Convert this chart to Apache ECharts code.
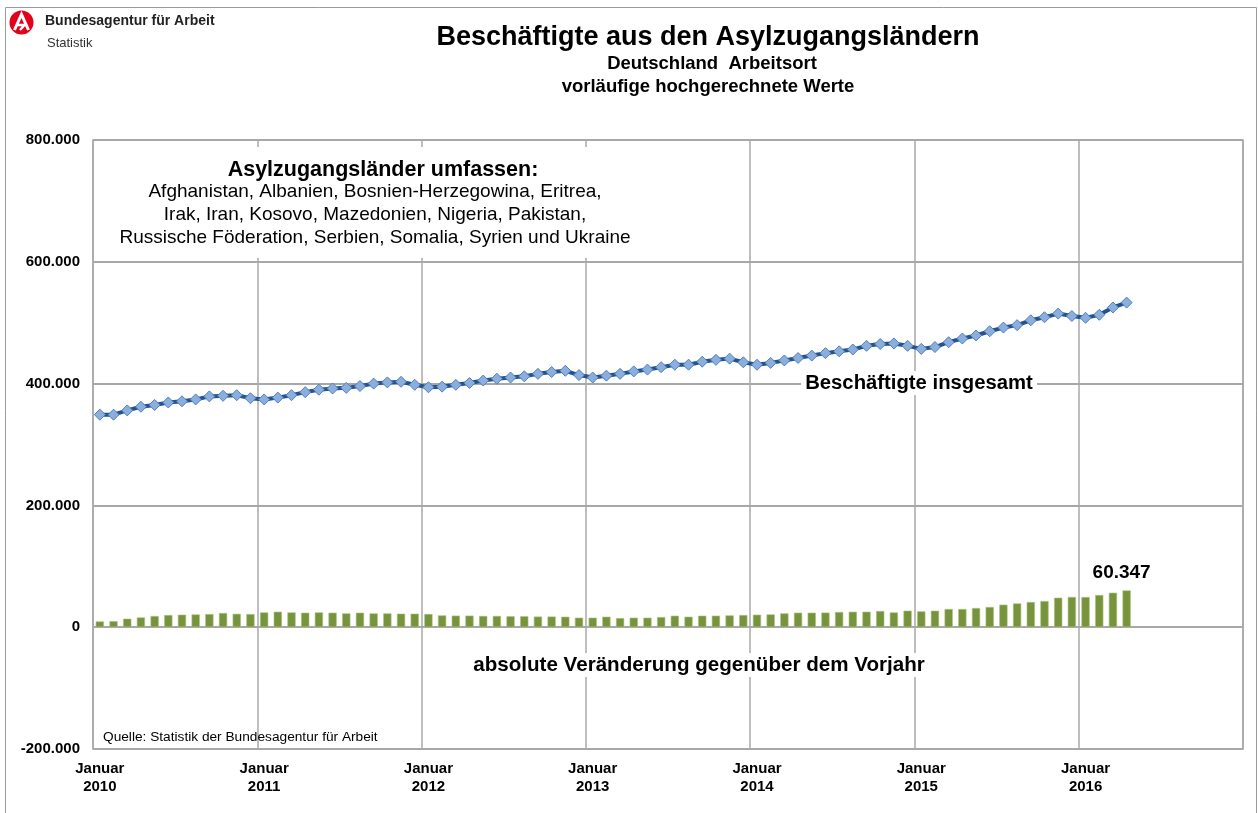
<!DOCTYPE html>
<html>
<head>
<meta charset="utf-8">
<script src="https://cdn.jsdelivr.net/npm/echarts@6/dist/echarts.min.js"></script>
<style>
  html, body { margin: 0; padding: 0; background: #fff; }
  #chart { width: 1258px; height: 813px; }
</style>
</head>
<body>
<div id="chart"></div>
<script>
// Monate Januar 2010 bis Dezember 2016 (Achse), Daten bis April 2016
const years = ['2010', '2011', '2012', '2013', '2014', '2015', '2016'];
const monthNames = ['Januar', 'Februar', 'März', 'April', 'Mai', 'Juni', 'Juli',
  'August', 'September', 'Oktober', 'November', 'Dezember'];

// Beschäftigte insgesamt
const beschaeftigte = [
  349000, 349000, 356000, 362000, 365000, 369000, 371000, 374000, 379000, 380000, 381000, 376000,
  374000, 377000, 381000, 386000, 390000, 392000, 393000, 396000, 400000, 402000, 403000, 398000,
  394000, 395000, 398000, 401000, 405000, 408000, 410000, 412000, 416000, 419000, 421000, 414000,
  410000, 413000, 416000, 420000, 423000, 427000, 431000, 431000, 436000, 439000, 441000, 435000,
  431000, 434000, 438000, 442000, 446000, 450000, 453000, 456000, 462000, 465000, 466000, 462000,
  457000, 460000, 468000, 474000, 479000, 486000, 492000, 496000, 504000, 509000, 515000, 511000,
  508000, 513000, 525000, 533000
];

// absolute Veränderung gegenüber dem Vorjahr
const veraenderung = [
  9500, 10000, 14000, 16000, 18400, 20000, 20500, 21000, 21600, 23300, 22000, 21600,
  24300, 25400, 24300, 23800, 24300, 23800, 22700, 23800, 22700, 22700, 22200, 22200,
  21700, 19400, 19000, 19000, 18500, 18500, 18000, 18000, 17500, 17500, 17200, 15600,
  15600, 17200, 15000, 15600, 15600, 16700, 18900, 17200, 18900, 18900, 19400, 20000,
  20500, 21000, 22700, 23800, 23800, 24000, 25000, 25400, 25400, 26600, 24300, 27100,
  26000, 27100, 29900, 29900, 31500, 33200, 37000, 39000, 41400, 43000, 48400, 49600,
  49600, 52900, 56600, 60347
];

const yTicks = { min: -200000, max: 800000, interval: 200000 };

const categories = [];
years.forEach(y => monthNames.forEach(m => categories.push(m + ' ' + y)));

function fmtDE(v) {
  const s = String(Math.abs(v)).replace(/\B(?=(\d{3})+(?!\d))/g, '.');
  return (v < 0 ? '-' : '') + s;
}

const font = 'Liberation Sans, Arial, sans-serif';
const gridColor = '#A8A8A8';

// letzter Wert bekommt die Beschriftung
const barData = veraenderung.map((v, i) => {
  if (i === veraenderung.length - 1) {
    return {
      value: v,
      label: {
        show: true,
        position: 'top',
        distance: 8,
        offset: [-5, 0],
        formatter: p => fmtDE(p.value),
        fontSize: 19,
        fontWeight: 'bold',
        color: '#000',
        fontFamily: font
      }
    };
  }
  return v;
});

const chart = echarts.init(document.getElementById('chart'));

chart.setOption({
  animation: false,
  backgroundColor: '#fff',
  textStyle: { fontFamily: font },
  grid: {
    left: 93, right: 15, top: 140, bottom: 64,
    show: true, borderColor: gridColor, borderWidth: 1.5
  },
  xAxis: {
    type: 'category',
    data: categories,
    boundaryGap: true,
    axisLine: { show: false },
    axisTick: { show: false, interval: 11 },
    axisLabel: {
      interval: 11,
      margin: 11,
      fontSize: 15,
      fontWeight: 'bold',
      color: '#000',
      lineHeight: 18,
      formatter: v => v.replace(' ', '\n')
    },
    splitLine: { show: true, interval: 11, lineStyle: { color: gridColor, width: 1.5 } }
  },
  yAxis: {
    type: 'value',
    min: yTicks.min,
    max: yTicks.max,
    interval: yTicks.interval,
    axisLine: { show: false },
    axisTick: { show: false },
    axisLabel: {
      margin: 13,
      fontSize: 15,
      fontWeight: 'bold',
      color: '#000',
      formatter: v => fmtDE(v)
    },
    splitLine: { lineStyle: { color: gridColor, width: 2 } }
  },
  series: [
    {
      name: 'absolute Veränderung gegenüber dem Vorjahr',
      type: 'bar',
      data: barData,
      barWidth: '60%',
      itemStyle: { color: '#77933C', borderColor: '#A9C47F', borderWidth: 0.6 }
    },
    {
      name: 'Beschäftigte insgesamt',
      type: 'line',
      data: beschaeftigte,
      symbol: 'diamond',
      symbolSize: [11, 11],
      showAllSymbol: true,
      lineStyle: { color: '#24528C', width: 4 },
      itemStyle: { color: '#8CAEDC', borderColor: '#4F81BD', borderWidth: 1 },
      z: 5
    }
  ],
  graphic: [
    { type: 'rect', shape: { x: 5.5, y: 7.5, width: 1251, height: 830 },
      style: { fill: 'none', stroke: '#9A9A9A', lineWidth: 1 }, silent: true },
    { type: 'circle', shape: { cx: 21.5, cy: 22.5, r: 12 }, style: { fill: '#E2001A' } },
    { type: 'polyline', shape: { points: [[14.5, 30], [21.5, 14.5], [28.5, 30]] },
      style: { stroke: '#fff', lineWidth: 3, fill: 'none' } },
    { type: 'polyline', shape: { points: [[17.5, 25], [24.5, 25], [20, 30]] },
      style: { stroke: '#fff', lineWidth: 2.5, fill: 'none' } },
    { type: 'text', left: 45, top: 14,
      style: { text: 'Bundesagentur für Arbeit', fill: '#222', font: 'bold 14px ' + font } },
    { type: 'text', left: 47, top: 37,
      style: { text: 'Statistik', fill: '#333', font: '13px ' + font } },
    { type: 'text', x: 708, y: 38,
      style: { text: 'Beschäftigte aus den Asylzugangsländern', fill: '#000', font: 'bold 27px ' + font,
        textAlign: 'center', textVerticalAlign: 'middle' } },
    { type: 'text', x: 712, y: 64,
      style: { text: 'Deutschland  Arbeitsort', fill: '#000', font: 'bold 18.5px ' + font,
        textAlign: 'center', textVerticalAlign: 'middle' } },
    { type: 'text', x: 708, y: 87,
      style: { text: 'vorläufige hochgerechnete Werte', fill: '#000', font: 'bold 18.5px ' + font,
        textAlign: 'center', textVerticalAlign: 'middle' } },
    // Textfelder mit weißer Füllung verdecken die Gitterlinien
    { type: 'rect', z: 10, shape: { x: 112, y: 147, width: 528, height: 111 },
      style: { fill: '#fff' }, silent: true },
    { type: 'rect', z: 10, shape: { x: 801, y: 371, width: 236, height: 24 },
      style: { fill: '#fff' }, silent: true },
    { type: 'rect', z: 10, shape: { x: 470, y: 653, width: 458, height: 24 },
      style: { fill: '#fff' }, silent: true },
    { type: 'text', z: 11, x: 383, y: 170,
      style: { text: 'Asylzugangsländer umfassen:', fill: '#000', font: 'bold 21.5px ' + font,
        textAlign: 'center', textVerticalAlign: 'middle' } },
    { type: 'text', z: 11, x: 375, y: 215,
      style: {
        text: 'Afghanistan, Albanien, Bosnien-Herzegowina, Eritrea,\nIrak, Iran, Kosovo, Mazedonien, Nigeria, Pakistan,\nRussische Föderation, Serbien, Somalia, Syrien und Ukraine',
        fill: '#000', font: '19px ' + font, lineHeight: 23,
        textAlign: 'center', textVerticalAlign: 'middle' } },
    { type: 'text', z: 11, x: 919, y: 383,
      style: { text: 'Beschäftigte insgesamt', fill: '#000', font: 'bold 20.3px ' + font,
        textAlign: 'center', textVerticalAlign: 'middle' } },
    { type: 'text', z: 11, x: 699, y: 665,
      style: { text: 'absolute Veränderung gegenüber dem Vorjahr', fill: '#000', font: 'bold 20.6px ' + font,
        textAlign: 'center', textVerticalAlign: 'middle' } },
    { type: 'text', z: 11, x: 103, y: 737,
      style: { text: 'Quelle: Statistik der Bundesagentur für Arbeit', fill: '#000', font: '13.7px ' + font,
        textAlign: 'left', textVerticalAlign: 'middle' } }
  ]
});
</script>
</body>
</html>
